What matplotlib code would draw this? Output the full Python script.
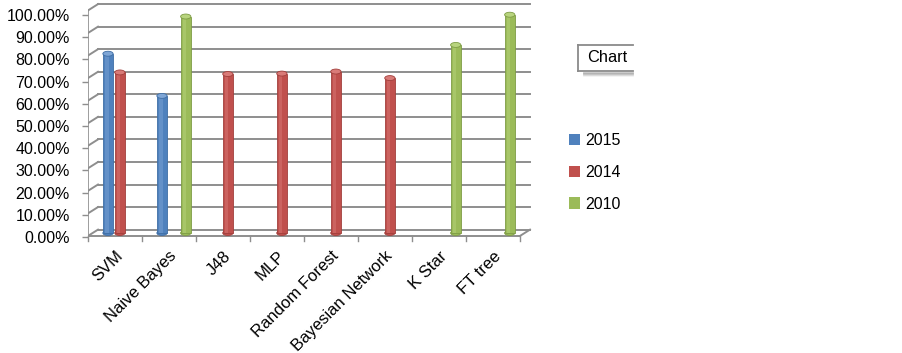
import numpy as np
import matplotlib
matplotlib.use("Agg")
import matplotlib.pyplot as plt
from matplotlib.patches import Patch, Ellipse
from matplotlib.lines import Line2D

plt.rcParams['font.family'] = ['Liberation Sans', 'DejaVu Sans']

models = ["SVM", "Naive Bayes", "J48", "MLP", "Random Forest",
          "Bayesian Network", "K Star", "FT tree"]
acc_2015 = [79.5, 60.8, np.nan, np.nan, np.nan, np.nan, np.nan, np.nan]
acc_2014 = [71.2, np.nan, 70.5, 70.7, 71.6, 68.7, np.nan, np.nan]
acc_2010 = [np.nan, 96.0, np.nan, np.nan, np.nan, np.nan, 83.4, 96.8]
years = ["2015", "2014", "2010"]
yticks = list(range(0, 101, 10))

colors = ["#4F81BD", "#C0504D", "#9BBB59"]
edges = ["#3F6EA5", "#A23F3C", "#7E9C45"]
lights = ["#7FA6D6", "#D97B78", "#B8D47E"]

W, H = 903, 353
fig = plt.figure(figsize=(W / 100, H / 100), dpi=100)

# axes placed in pixels so the pseudo-3D frame lines up
px_l, px_r, px_t, px_b = 88, 545, 0, 245
ax = fig.add_axes([px_l / W, 1 - px_b / H, (px_r - px_l) / W, (px_b - px_t) / H])
xpp = 1 / 54.0      # data units per pixel (x)
ypp = 1 / 2.255     # data units per pixel (y)
ax.set_xlim(0, (px_r - px_l) * xpp)
ax.set_ylim(-(px_b - 233) * ypp, 233 * ypp)
for s in ax.spines.values():
    s.set_visible(False)
ax.set_xticks([])

n = len(models)
dx = 10 * xpp       # depth offset
front = -1.3
back = 1.5
grid_c = "#8e8e8e"

# back wall gridlines + left wall slants
for v in yticks:
    ax.plot([dx, n + dx], [v + back, v + back], color=grid_c, lw=1.4, zorder=1)
    ax.plot([0, dx], [v + front, v + back], color=grid_c, lw=1.4, zorder=1)
# front left axis
ax.plot([0, 0], [front, 100 + front], color=grid_c, lw=1.2, zorder=1)
# floor
ax.plot([0, n], [front, front], color=grid_c, lw=1.4, zorder=1)
ax.plot([n, n + dx], [front, back], color=grid_c, lw=1.4, zorder=1)
for i in range(n + 1):
    ax.plot([i, i], [front, front - 2.2], color=grid_c, lw=1.0, zorder=1, clip_on=False)

# bars (cylinder-ish)
bw = 0.19
for s, vals in enumerate([acc_2015, acc_2014, acc_2010]):
    for i, v in enumerate(vals):
        if np.isnan(v):
            continue
        x = i + 0.5 + 0.09 + (s - 1) * 0.22
        ax.add_patch(Ellipse((x, 0), bw, 2.2, facecolor=colors[s],
                             edgecolor=edges[s], lw=0.6, zorder=3))
        ax.bar(x, v, width=bw, color=colors[s], edgecolor=edges[s],
               lw=0.6, zorder=3)
        ax.bar(x - bw * 0.12, v, width=bw * 0.35, color=lights[s],
               alpha=0.45, lw=0, zorder=4)
        ax.add_patch(Ellipse((x, v), bw, 2.2, facecolor=lights[s],
                             edgecolor=edges[s], lw=0.6, zorder=5))

ax.set_yticks([v * 0.985 - 1.8 for v in yticks])
ax.set_yticklabels([f"{v:.2f}%" for v in yticks])
ax.tick_params(axis='y', length=4, width=1, color=grid_c, pad=9, labelsize=11.5)

for i, m in enumerate(models):
    ax.text(i + 0.5, -6.8, m, rotation=45, ha='right', va='top',
            rotation_mode='anchor', fontsize=12.0, clip_on=False)

# legend
handles = [Patch(facecolor=c, edgecolor='none') for c in colors]
fig.legend(handles, years, loc='upper left', bbox_to_anchor=(569 / W, 1 - 133 / H),
           frameon=False, fontsize=11.5, handlelength=0.7, handleheight=0.7,
           handletextpad=0.3, labelspacing=1.05, borderpad=0, borderaxespad=0)

# clipped "Chart" title box
def fl(x0, y0, x1, y1, **kw):
    fig.add_artist(Line2D([x0 / W, x1 / W], [1 - y0 / H, 1 - y1 / H], **kw))

for k, a in enumerate([0.45, 0.35, 0.22, 0.1]):
    fl(584, 72.5 + k, 633, 72.5 + k, color='#808080', alpha=a, lw=1.3)
fl(578, 45, 633, 45, color='#8a8a8a', lw=1.3)
fl(578, 45, 578, 71, color='#8a8a8a', lw=1.3)
fl(578, 71, 633, 71, color='#8a8a8a', lw=1.3)
fig.text(587 / W, 1 - 58 / H, "Chart", fontsize=11.8, va='center', ha='left')

fig.savefig("out.png", dpi=100)
